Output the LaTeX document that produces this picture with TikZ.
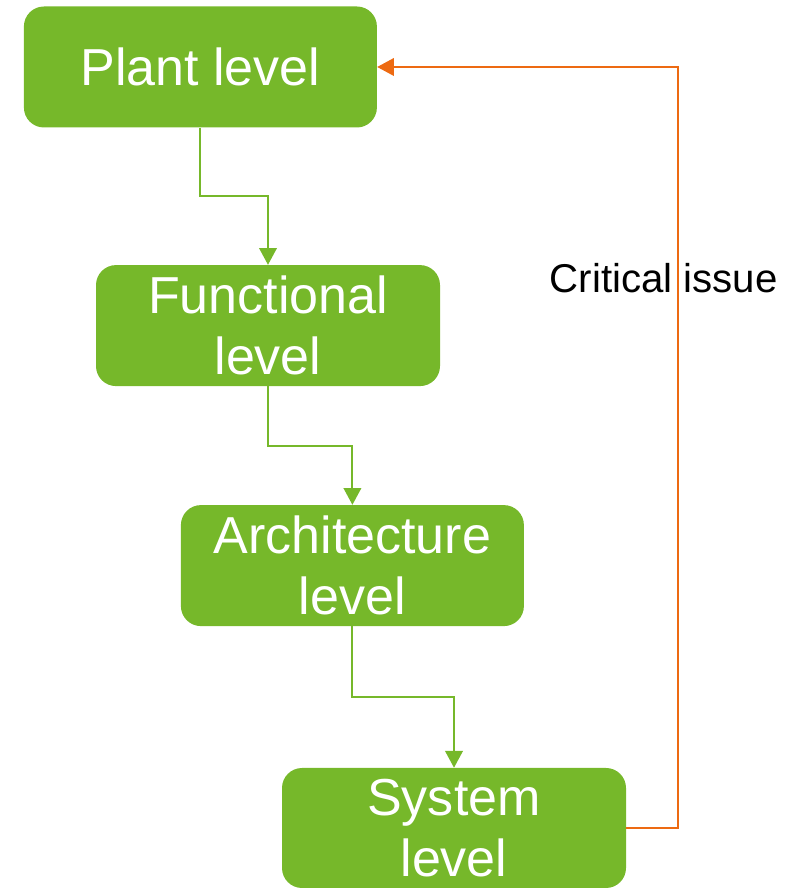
\documentclass[tikz,border=0pt]{standalone}
\usepackage{fontspec}
\setmainfont{Liberation Sans}
\usetikzlibrary{arrows.meta, positioning, calc}
\definecolor{lvlgreen}{HTML}{76B82A}
\definecolor{issueorange}{HTML}{ED6A12}

\begin{document}
\begin{tikzpicture}[>={Triangle[length=0.42cm, width=0.44cm]},
    level/.style={fill=lvlgreen, rounded corners=0.5cm, minimum height=3.025cm, text=white, align=center, font=\fontsize{37}{43.4}\selectfont},
    flow/.style={->, draw=lvlgreen, line width=1.4pt},
    feedback/.style={->, draw=issueorange, line width=1.4pt}]
    \useasboundingbox (0, 0) rectangle (19.875, 22.2);

    \node (Plant) at (5.01, 20.525) [level, minimum width=8.825cm] {Plant level};
    \node (Func) at (6.7, 14.06) [level, minimum width=8.6cm] {Functional\\level};
    \node (Arch) at (8.81, 8.06) [level, minimum width=8.575cm] {Architecture\\level};
    \node (Sys) at (11.35, 1.5) [level, minimum width=8.6cm, minimum height=3cm] {System\\level};

    \draw[flow] (Plant.south) |- ($(Plant.south)!0.5!(Func.north)$) -| (Func.north);
    \draw[flow] (Func.south) |- ($(Func.south)!0.5!(Arch.north)$) -| (Arch.north);
    \draw[flow] (Arch.south) |- ($(Arch.south)!0.5!(Sys.north)$) -| (Sys.north);

    \draw[feedback] (Sys.east) -- ++(1.3, 0) |- (Plant.east);
    \node (Issue) at (16.59, 15.25) [font=\fontsize{28.6}{33}\selectfont] {Critical issue};
\end{tikzpicture}
\end{document}
